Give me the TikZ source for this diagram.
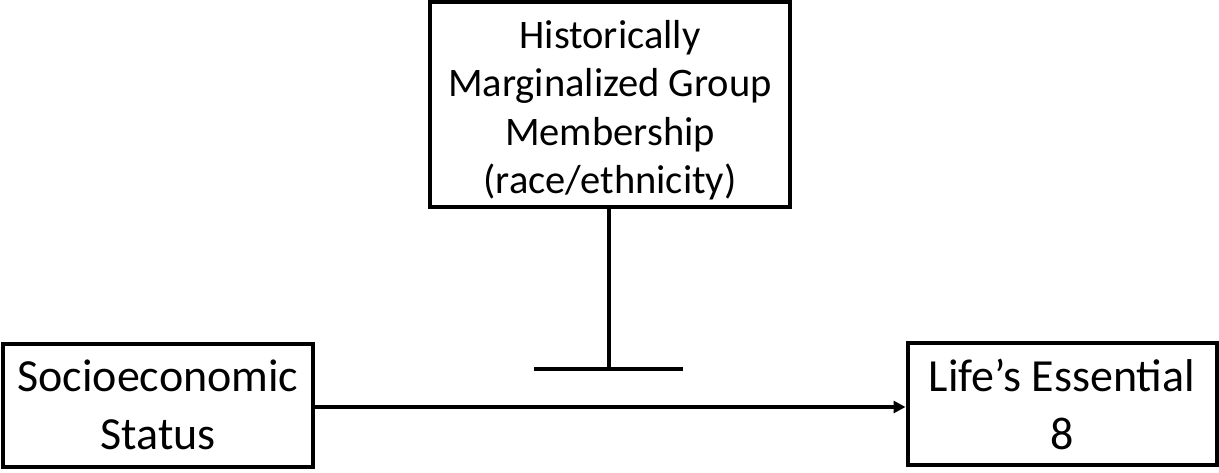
\documentclass[tikz,border=0pt]{standalone}
\usepackage{fontspec}
\setmainfont{Carlito}
\usepackage{tikz}
\usetikzlibrary{arrows.meta}

\tikzset{
    varbox/.style={draw, line width=4pt, rectangle, align=center, inner sep=0pt,
        font=\fontsize{46}{58}\selectfont},
}

\begin{document}
\begin{tikzpicture}[x=1pt, y=-1pt]
    \useasboundingbox (0,0) rectangle (1219,472);
    \node[varbox, minimum width=360pt, minimum height=205pt,
        font=\fontsize{40.5}{48.5}\selectfont] (HMG) at (610,104.5)
        {\rule{0pt}{40pt}Historically\\Marginalized Group\\Membership\\(race/ethnicity)};
    \node[varbox, minimum width=310pt, minimum height=123pt] (SES) at (158,405)
        {Socioeconomic\\Status};
    \node[varbox, minimum width=309pt, minimum height=122pt] (LE8) at (1062,404)
        {Life’s Essential\\8};

    \coordinate (Bar) at (609,369);
    \coordinate (BarL) at (534,369);
    \coordinate (BarR) at (683,369);

    \draw[line width=3.5pt, -{Triangle[length=12pt,width=12pt]}] (SES.east |- 0,407) to (LE8.west |- 0,407);
    \draw[line width=4pt] (HMG.south -| Bar) to (Bar);
    \draw[line width=4pt] (BarL) to (BarR);
\end{tikzpicture}
\end{document}
